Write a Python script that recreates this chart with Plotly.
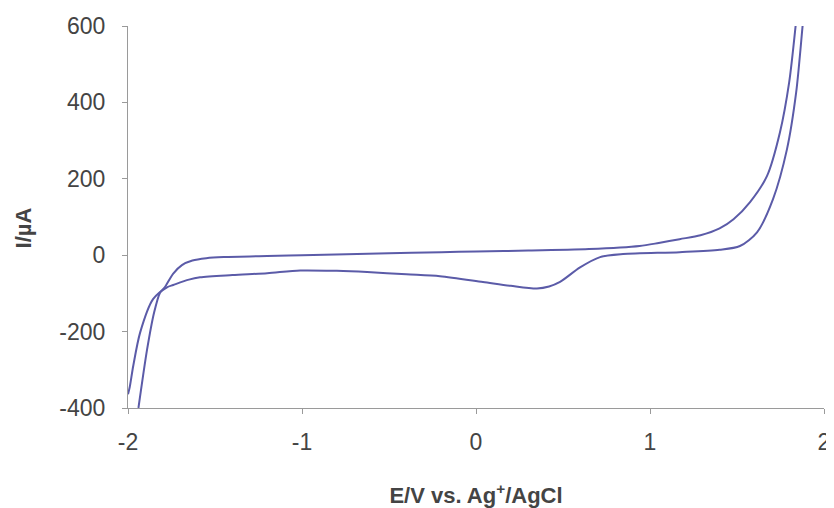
import plotly.graph_objects as go

# Upper branch (E/V, I/uA)
E_up = [-1.94, -1.89, -1.85, -1.816, -1.79, -1.74, -1.69, -1.63, -1.55, -1.45, -1.2, -1.0,
        -0.5, -0.2, 0.0, 0.3, 0.65, 0.94, 1.05, 1.17, 1.29, 1.40, 1.48, 1.575, 1.672, 1.747,
        1.800, 1.838, 1.85]
I_up = [-400, -246, -150, -98, -85, -48, -26, -14, -8, -5, -2, 0,
        5, 8, 10, 12, 16, 24, 32, 42, 52, 70, 94, 139, 207, 322,
        453, 605, 660]

# Lower branch (E/V, I/uA)
E_low = [-2.0, -1.99, -1.97, -1.93, -1.856, -1.776, -1.74, -1.65, -1.586, -1.4, -1.2, -1.01,
         -0.8, -0.626, -0.4, -0.207, 0.04, 0.2, 0.35, 0.42, 0.483, 0.598, 0.713, 0.845,
         1.17, 1.4, 1.517, 1.615, 1.707, 1.787, 1.840, 1.878, 1.89]
I_low = [-364, -345, -290, -202, -115, -84, -78, -64, -58, -52, -47, -40,
         -41, -44, -50, -55, -70, -80, -87, -82, -70, -32, -5, 3,
         8, 14, 24, 60, 147, 277, 426, 605, 660]

x_ticks = [-2, -1, 0, 1, 2]
y_ticks = [-400, -200, 0, 200, 400, 600]

line_color = "#5b5ba8"

fig = go.Figure()
fig.add_trace(go.Scatter(x=E_up, y=I_up, mode="lines",
                         line=dict(color=line_color, width=2, shape="spline", smoothing=0.8),
                         showlegend=False))
fig.add_trace(go.Scatter(x=E_low, y=I_low, mode="lines",
                         line=dict(color=line_color, width=2, shape="spline", smoothing=0.8),
                         showlegend=False))

# page body has an 8px default margin, so the figure is sized to fit the window
fig.update_layout(
    width=826, height=500,
    margin=dict(l=120, r=10, t=18, b=100, autoexpand=False),
    paper_bgcolor="white", plot_bgcolor="white",
    font=dict(family="Liberation Sans, Arial, sans-serif", color="#444444"),
)
fig.update_xaxes(
    range=[-2, 2], tickvals=x_ticks, ticktext=[str(v) for v in x_ticks],
    automargin=False,
    showgrid=False, zeroline=False, showline=True, linecolor="#9a9a9a", linewidth=1,
    ticks="outside", ticklen=5, tickcolor="#9a9a9a",
    tickfont=dict(size=23, color="#444444"), ticklabelstandoff=8,
    title=dict(text="<b>E/V vs. Ag<sup>+</sup>/AgCl</b>", font=dict(size=22, color="#444444"),
               standoff=53),
)
fig.update_yaxes(
    range=[-400, 600], tickvals=y_ticks, ticktext=[str(v) for v in y_ticks],
    automargin=False,
    showgrid=False, zeroline=False, showline=True, linecolor="#9a9a9a", linewidth=1,
    ticks="outside", ticklen=5, tickcolor="#9a9a9a",
    tickfont=dict(size=23, color="#444444"), ticklabelstandoff=12,
)
fig.add_annotation(
    text="<b>I/µA</b>", textangle=-90, showarrow=False,
    xref="paper", yref="paper", x=0, y=0.47, xanchor="center", yanchor="middle",
    xshift=-105, borderpad=0, font=dict(size=22, color="#444444"),
)

fig.write_html("out.html")
